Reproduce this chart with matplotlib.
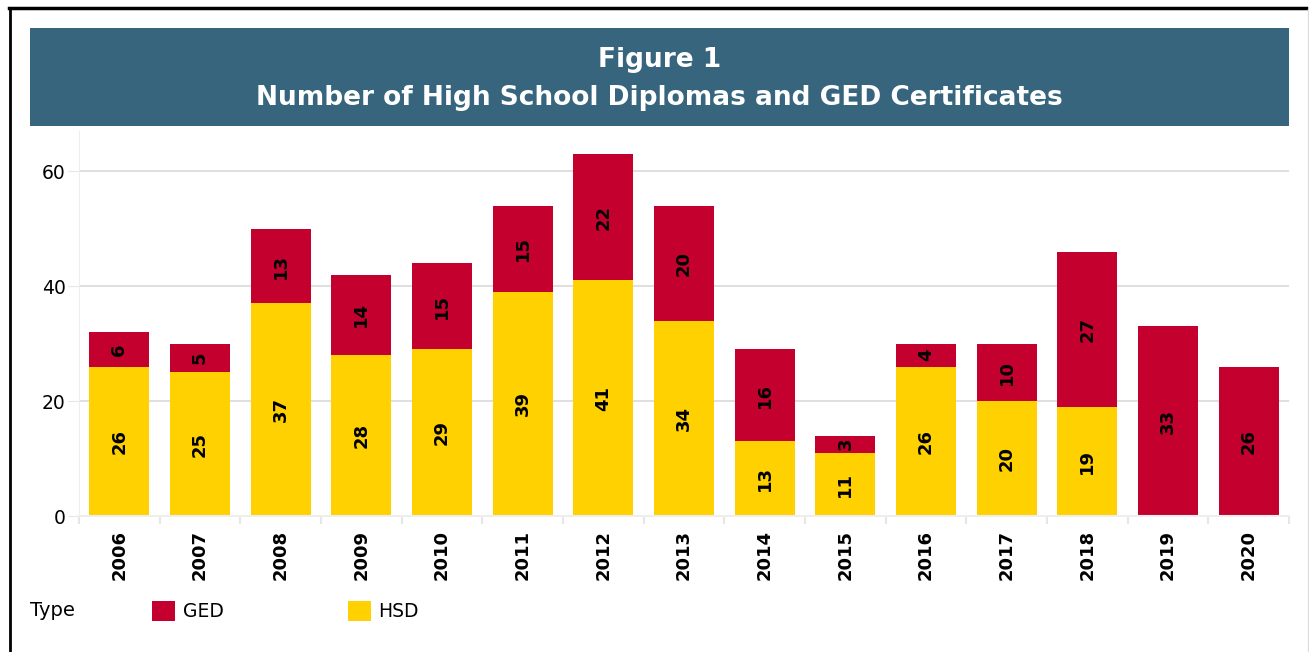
import numpy as np
import matplotlib.pyplot as plt
from matplotlib.patches import Rectangle
from matplotlib.lines import Line2D

anos = ["2006", "2007", "2008", "2009", "2010", "2011", "2012", "2013",
        "2014", "2015", "2016", "2017", "2018", "2019", "2020"]
hsd = [26, 25, 37, 28, 29, 39, 41, 34, 13, 11, 26, 20, 19, 0, 0]
ged = [6, 5, 13, 14, 15, 15, 22, 20, 16, 3, 4, 10, 27, 33, 26]

COR_HSD = "#FFD100"
COR_GED = "#C4002F"
COR_BANNER = "#36657D"
W, H = 1309, 652

fig = plt.figure(figsize=(W / 100, H / 100), dpi=100)

# moldura
fig.add_artist(Line2D([9.5 / W, 9.5 / W], [0, 1 - 8 / H], color="black", lw=2))
fig.add_artist(Line2D([9 / W, 1306 / W], [1 - 8 / H, 1 - 8 / H], color="black", lw=2.5))
fig.add_artist(Line2D([1307.5 / W, 1307.5 / W], [0, 1 - 9 / H], color="#dddddd", lw=1))

# faixa do titulo
fig.add_artist(Rectangle((30 / W, 1 - 126 / H), 1259 / W, 98 / H,
                         transform=fig.transFigure, color=COR_BANNER, lw=0))
fig.text(659.5 / W, 1 - 60 / H, "Figure 1", color="white", fontsize=19,
         fontweight="bold", ha="center", va="center")
fig.text(659.5 / W, 1 - 98 / H, "Number of High School Diplomas and GED Certificates",
         color="white", fontsize=19, fontweight="bold", ha="center", va="center")

ax = fig.add_axes([79 / W, 1 - 516 / H, 1210 / W, 385 / H])
x = np.arange(len(anos))
larg = 0.74
b_hsd = ax.bar(x, hsd, larg, color=COR_HSD, zorder=2, label="HSD")
b_ged = ax.bar(x, ged, larg, bottom=hsd, color=COR_GED, zorder=2, label="GED")

for i in range(len(anos)):
    if hsd[i] > 0:
        ax.text(x[i], hsd[i] / 2, str(hsd[i]), rotation=90, ha="center", va="center",
                fontsize=13, fontweight="bold", color="black", zorder=3)
    if ged[i] > 0:
        ax.text(x[i], hsd[i] + ged[i] / 2, str(ged[i]), rotation=90, ha="center",
                va="center", fontsize=13, fontweight="bold", color="black", zorder=3)

ax.set_xlim(-0.5, len(anos) - 0.5)
ax.set_ylim(0, 67)
ax.set_yticks([0, 20, 40, 60])
ax.set_xticks(x)
ax.set_xticklabels(anos, rotation=90, fontsize=13, fontweight="bold")
ax.set_xticks(np.arange(len(anos) + 1) - 0.5, minor=True)
ax.tick_params(axis="x", which="major", length=0, pad=10)
ax.tick_params(axis="x", which="minor", length=6, color="#e6e6e6", width=1.5)
ax.tick_params(axis="y", length=8, color="#e6e6e6", labelsize=13.5, pad=1.5)
ax.yaxis.grid(True, color="#d9d9d9", lw=1.2, zorder=0)
ax.set_axisbelow(True)
for s in ["top", "right"]:
    ax.spines[s].set_visible(False)
ax.spines["left"].set_color("#eeeeee")
ax.spines["bottom"].set_color("#eeeeee")
ax.spines["bottom"].set_linewidth(1.5)

# legenda
fig.text(30 / W, 1 - 611 / H, "Type", fontsize=14, ha="left", va="center")
fig.legend(handles=[b_ged, b_hsd], labels=["GED", "HSD"], ncol=2, frameon=False,
           loc="center left", bbox_to_anchor=(152 / W, 1 - 611 / H),
           borderpad=0, borderaxespad=0, fontsize=13.5, handlelength=1.25,
           handleheight=1.25, handletextpad=0.4, columnspacing=6.6)

plt.savefig("out.png", dpi=100)
plt.close()
